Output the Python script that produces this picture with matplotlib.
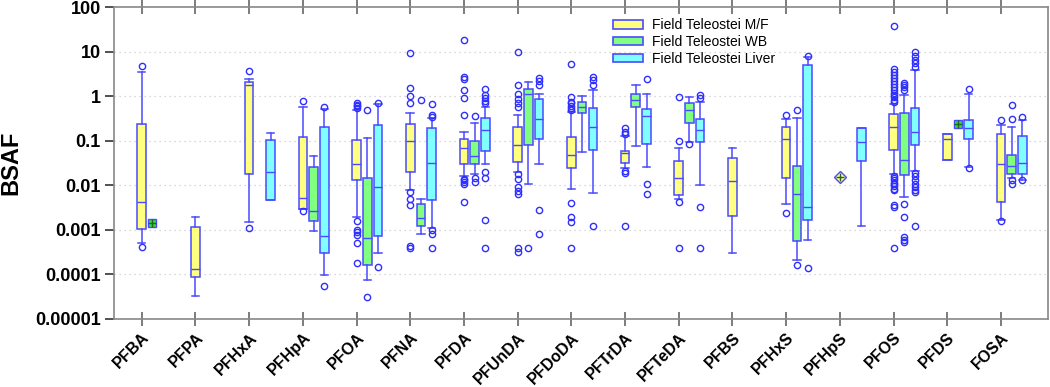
import numpy as np
import matplotlib
matplotlib.use("Agg")
import matplotlib.pyplot as plt
from matplotlib.patches import Patch
from matplotlib.ticker import NullLocator

plt.rcParams['font.family'] = ['Liberation Sans', 'DejaVu Sans']

categories = ['PFBA', 'PFPA', 'PFHxA', 'PFHpA', 'PFOA', 'PFNA', 'PFDA', 'PFUnDA',
              'PFDoDA', 'PFTrDA', 'PFTeDA', 'PFBS', 'PFHxS', 'PFHpS', 'PFOS',
              'PFDS', 'FOSA']
series_names = ['Field Teleostei M/F', 'Field Teleostei WB', 'Field Teleostei Liver']
nan = np.nan

# box statistics per category: (whislo, q1, med, q3, whishi), nan = no box
mf_boxes = [
    (0.00052, 0.00105, 0.0043, 0.24, 3.6),
    (0.0000334, 0.0000877, 0.000135, 0.00118, 0.0019),
    (0.00149, 0.0183, 1.83, 2.14, 2.45),
    (0.0029, 0.00295, 0.0051, 0.124, 0.59),
    (0.00195, 0.013, 0.030, 0.105, 0.49),
    (0.0079, 0.0197, 0.098, 0.243, 0.42),
    (0.0165, 0.031, 0.068, 0.108, 0.158),
    (0.020, 0.034, 0.079, 0.21, 0.38),
    (0.0085, 0.025, 0.047, 0.122, 0.44),
    (0.025, 0.032, 0.053, 0.059, 0.13),
    (0.0049, 0.0061, 0.0144, 0.035, 0.070),
    (0.0003, 0.0021, 0.0124, 0.042, 0.069),
    (0.0038, 0.0144, 0.11, 0.21, 0.31),
    (nan, nan, nan, nan, nan),
    (0.0178, 0.061, 0.21, 0.41, 0.67),
    (0.038, 0.038, 0.108, 0.145, 0.145),
    (0.00167, 0.0042, 0.031, 0.141, 0.224),
]
mf_fliers = [
    [0.00042, 4.8], [], [0.0011, 3.7], [0.0027, 0.77],
    [0.000183, 0.0005, 0.00078, 0.00089, 0.001, 0.0016, 0.55, 0.6, 0.65, 0.7],
    [0.0004, 0.00043, 0.0036, 0.0049, 0.0072, 0.70, 1.03, 1.57, 9.6],
    [0.0042, 0.011, 0.012, 0.013, 0.014, 0.38, 0.93, 1.4, 2.45, 2.7, 18.8],
    [0.00032, 0.0004, 0.0064, 0.0075, 0.0091, 0.0141, 0.0176, 0.57, 0.7, 0.86, 1.13, 1.83, 9.9],
    [0.0004, 0.00149, 0.00198, 0.0040, 0.49, 0.55, 0.62, 0.7, 0.76, 0.98, 5.2],
    [0.00124, 0.019, 0.021, 0.14, 0.16, 0.19],
    [0.0004, 0.0043, 0.1, 0.98],
    [], [0.0024, 0.38], [],
    [0.0004, 0.0032, 0.0036, 0.0077, 0.0085, 0.0095, 0.0105, 0.0115, 0.013, 0.0145, 0.0165,
     0.76, 0.85, 0.95, 1.05, 1.2, 1.4, 1.6, 1.9, 2.2, 2.6, 3.0, 3.5, 4.1, 39.0],
    [], [0.0016, 0.295],
]
wb_boxes = [
    (nan, nan, nan, nan, nan),
    (nan, nan, nan, nan, nan),
    (nan, nan, nan, nan, nan),
    (0.00093, 0.00162, 0.0027, 0.0263, 0.0465),
    (0.000073, 0.000159, 0.00065, 0.0149, 0.117),
    (0.00081, 0.00124, 0.00186, 0.0039, 0.0049),
    (0.018, 0.031, 0.046, 0.1, 0.25),
    (0.0107, 0.079, 1.13, 1.46, 2.14),
    (0.057, 0.415, 0.586, 0.735, 1.0),
    (0.077, 0.57, 0.83, 1.13, 1.8),
    (0.096, 0.25, 0.49, 0.70, 0.98),
    (nan, nan, nan, nan, nan),
    (0.00021, 0.00056, 0.0063, 0.027, 0.32),
    (nan, nan, nan, nan, nan),
    (0.0054, 0.0174, 0.038, 0.415, 1.09),
    (nan, nan, nan, nan, nan),
    (0.0144, 0.0178, 0.027, 0.047, 0.2),
]
wb_fliers = [
    [], [], [], [], [0.0000312, 0.49], [0.83], [0.0122, 0.0149, 0.37],
    [0.0004], [], [], [0.084], [], [0.00016, 0.49], [],
    [0.00054, 0.0006, 0.0007, 0.00195, 0.0038, 1.39, 1.6, 1.8, 2.0],
    [], [0.0107, 0.0131, 0.305, 0.64],
]
liver_boxes = [
    (nan, nan, nan, nan, nan),
    (nan, nan, nan, nan, nan),
    (0.0047, 0.0047, 0.0203, 0.106, 0.153),
    (0.000098, 0.0003, 0.00074, 0.20, 0.52),
    (0.00031, 0.00072, 0.0091, 0.224, 0.66),
    (0.0011, 0.0047, 0.032, 0.195, 0.32),
    (0.031, 0.059, 0.176, 0.32, 0.57),
    (0.030, 0.112, 0.305, 0.86, 1.11),
    (0.0069, 0.061, 0.208, 0.54, 1.39),
    (0.0255, 0.084, 0.36, 0.52, 1.15),
    (0.0102, 0.093, 0.173, 0.305, 0.76),
    (nan, nan, nan, nan, nan),
    (0.00059, 0.00167, 0.0033, 5.0, 7.6),
    (0.00124, 0.035, 0.096, 0.19, 0.19),
    (0.021, 0.081, 0.16, 0.54, 3.9),
    (0.026, 0.11, 0.19, 0.30, 1.11),
    (0.0131, 0.0178, 0.032, 0.126, 0.30),
]
liver_fliers = [
    [], [], [], [0.000056, 0.58], [0.00015, 0.71],
    [0.0004, 0.0008, 0.001, 0.35, 0.38, 0.66],
    [0.0004, 0.00166, 0.0149, 0.0197, 0.7, 0.8, 0.9, 1.1, 1.44],
    [0.00081, 0.00285, 1.83, 2.2, 2.6],
    [0.00124, 1.8, 2.33, 2.75],
    [0.0065, 0.011, 2.4],
    [0.0004, 0.0033, 0.93, 1.07],
    [], [0.00014, 8.2], [],
    [0.00124, 0.0072, 0.008, 0.009, 0.011, 0.013, 0.016, 0.019, 4.5, 5.5, 6.5, 8.0, 10.0],
    [0.025, 1.49], [0.0131, 0.34],
]
# single-value groups drawn as a point
single_points = [('PFBA', 1, 0.00146), ('PFHpS', 0, 0.0152), ('PFDS', 1, 0.243)]

face_colors = ['#ffff80', '#80ff80', '#80ffff']
edge = '#4a4aff'
offsets = [0.0, 0.2, 0.4]

fig = plt.figure(figsize=(10.5, 3.87), dpi=100)
ax = fig.add_axes([0.1086, 0.176, 0.8894, 0.805])

all_boxes = [mf_boxes, wb_boxes, liver_boxes]
all_fliers = [mf_fliers, wb_fliers, liver_fliers]
for s in range(3):
    stats, pos = [], []
    for i, (b, f) in enumerate(zip(all_boxes[s], all_fliers[s])):
        if np.isnan(b[0]):
            continue
        stats.append(dict(whislo=b[0], q1=b[1], med=b[2], q3=b[3], whishi=b[4], fliers=f))
        pos.append(i + 1 + offsets[s])
    ax.bxp(stats, positions=pos, widths=0.16, capwidths=0.14, patch_artist=True,
           boxprops=dict(facecolor=face_colors[s], edgecolor=edge, linewidth=1.1),
           whiskerprops=dict(color=edge, linewidth=1.1),
           capprops=dict(color=edge, linewidth=1.1),
           medianprops=dict(color=edge, linewidth=1.0),
           flierprops=dict(marker='o', markerfacecolor='none', markeredgecolor='#2f2fff',
                           markersize=4.5, markeredgewidth=1.0),
           manage_ticks=False)

for name, s, v in single_points:
    x = categories.index(name) + 1 + offsets[s]
    mk = 'D' if s == 0 else 's'
    ax.plot([x], [v], marker=mk, markersize=6, markerfacecolor=face_colors[s] if s == 0 else '#33dd33',
            markeredgecolor=edge, linestyle='none', zorder=4)
    ax.plot([x], [v], marker='+', markersize=6, color='#226622', linestyle='none', zorder=5)

ax.set_yscale('log')
ax.set_ylim(0.00001, 100)
ax.set_xlim(0.484, 17.875)
yt = [0.00001, 0.0001, 0.001, 0.01, 0.1, 1, 10, 100]
ax.set_yticks(yt, ['0.00001', '0.0001', '0.001', '0.01', '0.1', '1', '10', '100'],
              fontsize=13, fontweight='bold')
ax.yaxis.set_minor_locator(NullLocator())
for v in yt[1:-1]:
    ax.axhline(v, color='#cccccc', linestyle=(0, (1, 3)), linewidth=0.9, zorder=0)

ax.set_xticks(np.arange(1, len(categories) + 1))
ax.set_xticklabels(categories, rotation=45, ha='right', rotation_mode='anchor',
                   fontsize=11.5, fontweight='bold')
ax.tick_params(axis='x', direction='inout', length=10, top=True, color='#666666', width=1.2, pad=3)
ax.tick_params(axis='y', direction='out', length=6.5, color='#333333', width=1.2, pad=3)
for sp in ax.spines.values():
    sp.set_color('#888888')
    sp.set_linewidth(1.2)

ax.set_ylabel('BSAF', fontsize=17, fontweight='bold', labelpad=9)

handles = [Patch(facecolor=c, edgecolor=edge, linewidth=1.2) for c in face_colors]
ax.legend(handles, series_names, loc='upper left', bbox_to_anchor=(0.534, 0.965),
          frameon=False, fontsize=10, handlelength=2.2, handleheight=0.55,
          labelspacing=0.2, handletextpad=0.6, borderaxespad=0, borderpad=0)

fig.savefig('out.png', dpi=100)
